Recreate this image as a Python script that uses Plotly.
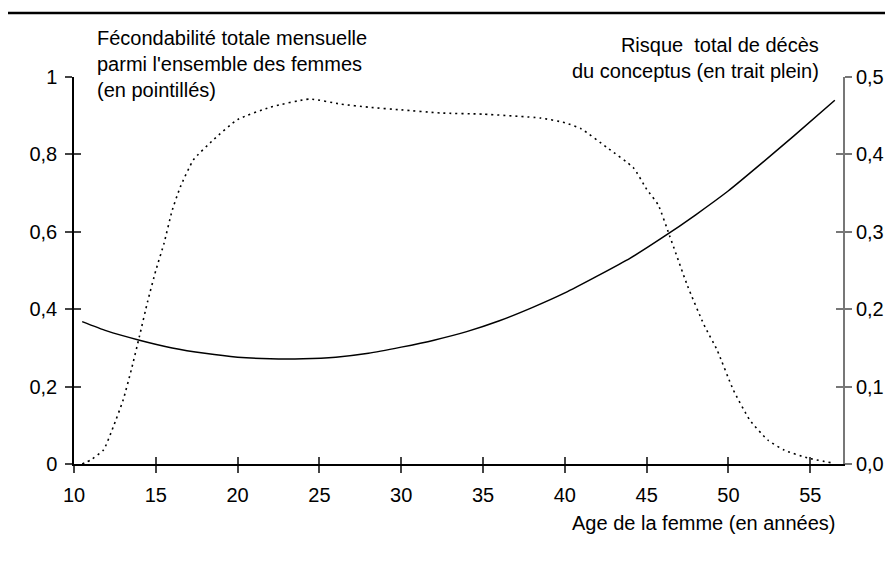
import plotly.graph_objects as go

# Fécondabilité totale mensuelle (axe gauche, pointillés)
age_fec = [10.5, 11.0, 11.8, 12.4, 13.0, 13.5, 14.0, 14.5, 15.0, 15.5, 16.0, 16.5,
           17.3, 18.5, 20.0, 22.0, 24.4, 26.3, 28.0, 30.0, 32.4, 35.0, 38.5, 40.0,
           41.0, 42.6, 44.2, 45.0, 45.7, 46.4, 47.5, 48.5, 49.3, 50.3, 51.3, 52.4,
           53.4, 54.8, 56.3]
fecondabilite = [0.0, 0.01, 0.036, 0.096, 0.165, 0.243, 0.33, 0.42, 0.50, 0.57, 0.655,
                 0.716, 0.786, 0.837, 0.89, 0.922, 0.943, 0.93, 0.922, 0.915, 0.907,
                 0.904, 0.894, 0.882, 0.866, 0.817, 0.765, 0.71, 0.67, 0.59, 0.46, 0.36,
                 0.295, 0.191, 0.114, 0.062, 0.036, 0.016, 0.003]

# Risque total de décès du conceptus (axe droit, trait plein)
age_risque = [10.5, 12, 14, 16, 18, 20, 22, 24, 26, 28, 30, 32, 34, 36, 38, 40, 42, 44,
              46, 48, 50, 52, 54, 56.5]
risque = [0.184, 0.172, 0.160, 0.150, 0.143, 0.138, 0.136, 0.136, 0.138, 0.143, 0.151,
          0.160, 0.171, 0.185, 0.202, 0.221, 0.243, 0.266, 0.293, 0.322, 0.353, 0.388,
          0.424, 0.470]

x_ticks = [10, 15, 20, 25, 30, 35, 40, 45, 50, 55]
y_left_ticks = [0, 0.2, 0.4, 0.6, 0.8, 1]
y_left_text = ["0", "0,2", "0,4", "0,6", "0,8", "1"]
y_right_ticks = [0, 0.1, 0.2, 0.3, 0.4, 0.5]
y_right_text = ["0,0", "0,1", "0,2", "0,3", "0,4", "0,5"]

FONT = "Liberation Sans, Arial, sans-serif"
fs = 20

fig = go.Figure()
fig.add_trace(go.Scatter(x=age_fec, y=fecondabilite, mode="lines",
                         line=dict(color="black", width=1.6, dash="2px,4px", shape="spline", smoothing=0.5),
                         xaxis="x", yaxis="y", showlegend=False))
fig.add_trace(go.Scatter(x=age_risque, y=risque, mode="lines",
                         line=dict(color="black", width=1.5, shape="spline", smoothing=0.6),
                         xaxis="x", yaxis="y2", showlegend=False))
# copies invisibles pour que les axes superposés (graduations intérieures) soient dessinés
for xa, ya, xs, ys in [("x2", "y", age_fec, fecondabilite),
                       ("x", "y3", age_fec, fecondabilite),
                       ("x", "y4", age_risque, risque)]:
    fig.add_trace(go.Scatter(x=xs, y=ys, mode="lines", opacity=0, hoverinfo="skip",
                             xaxis=xa, yaxis=ya, showlegend=False))

common = dict(showgrid=False, zeroline=False)
fig.update_layout(
    width=893, height=563,
    margin=dict(l=66, r=58, t=69, b=107),
    paper_bgcolor="white", plot_bgcolor="white",
    font=dict(family=FONT, size=fs, color="black"),
    xaxis=dict(range=[10, 57], tickvals=x_ticks, ticks="outside", ticklen=7, tickwidth=1.5,
               tickcolor="#444", showline=True, linecolor="black", linewidth=1.5,
               ticklabelstandoff=5, tickfont=dict(size=fs), **common),
    xaxis2=dict(overlaying="x", anchor="y", side="bottom", range=[10, 57], tickvals=x_ticks,
                ticks="inside", ticklen=7, tickwidth=1.5, tickcolor="#444",
                showticklabels=False, showline=False, **common),
    yaxis=dict(range=[0, 1], tickvals=y_left_ticks, ticktext=y_left_text, ticks="outside",
               ticklen=7, tickwidth=1.5, tickcolor="#444", showline=True, linecolor="black",
               linewidth=1.5, ticklabelstandoff=4, tickfont=dict(size=fs), **common),
    yaxis2=dict(overlaying="y", side="right", anchor="x", range=[0, 0.5], tickvals=y_right_ticks,
                ticktext=y_right_text, ticks="outside", ticklen=7, tickwidth=1.5,
                tickcolor="#777", showline=True, linecolor="#777", linewidth=1.8,
                ticklabelstandoff=0, tickfont=dict(size=fs), **common),
    yaxis3=dict(overlaying="y", side="left", anchor="x", range=[0, 1], tickvals=y_left_ticks,
                ticks="inside", ticklen=7, tickwidth=1.5, tickcolor="#444",
                showticklabels=False, showline=False, **common),
    yaxis4=dict(overlaying="y", side="right", anchor="x", range=[0, 0.5], tickvals=y_right_ticks,
                ticks="inside", ticklen=7, tickwidth=1.5, tickcolor="#777",
                showticklabels=False, showline=False, **common),
)

# filet horizontal en haut
fig.add_shape(type="line", xref="paper", yref="paper", x0=-0.1, x1=1.09,
              y0=1.1654, y1=1.1654, line=dict(color="black", width=2.5))

fig.add_annotation(xref="paper", yref="paper", x=0.027, y=1.135, xanchor="left", yanchor="top",
                   align="left", showarrow=False,
                   text="Fécondabilité totale mensuelle<br>parmi l'ensemble des femmes<br>(en pointillés)")
fig.add_annotation(xref="paper", yref="paper", x=0.9714, y=1.115, xanchor="right", yanchor="top",
                   align="right", showarrow=False,
                   text="Risque  total de décès<br>du conceptus (en trait plein)")
fig.add_annotation(xref="paper", yref="paper", x=0.9935, y=-0.152, xanchor="right", yanchor="middle",
                   showarrow=False, text="Age de la femme (en années)")

fig.write_html("out.html")
